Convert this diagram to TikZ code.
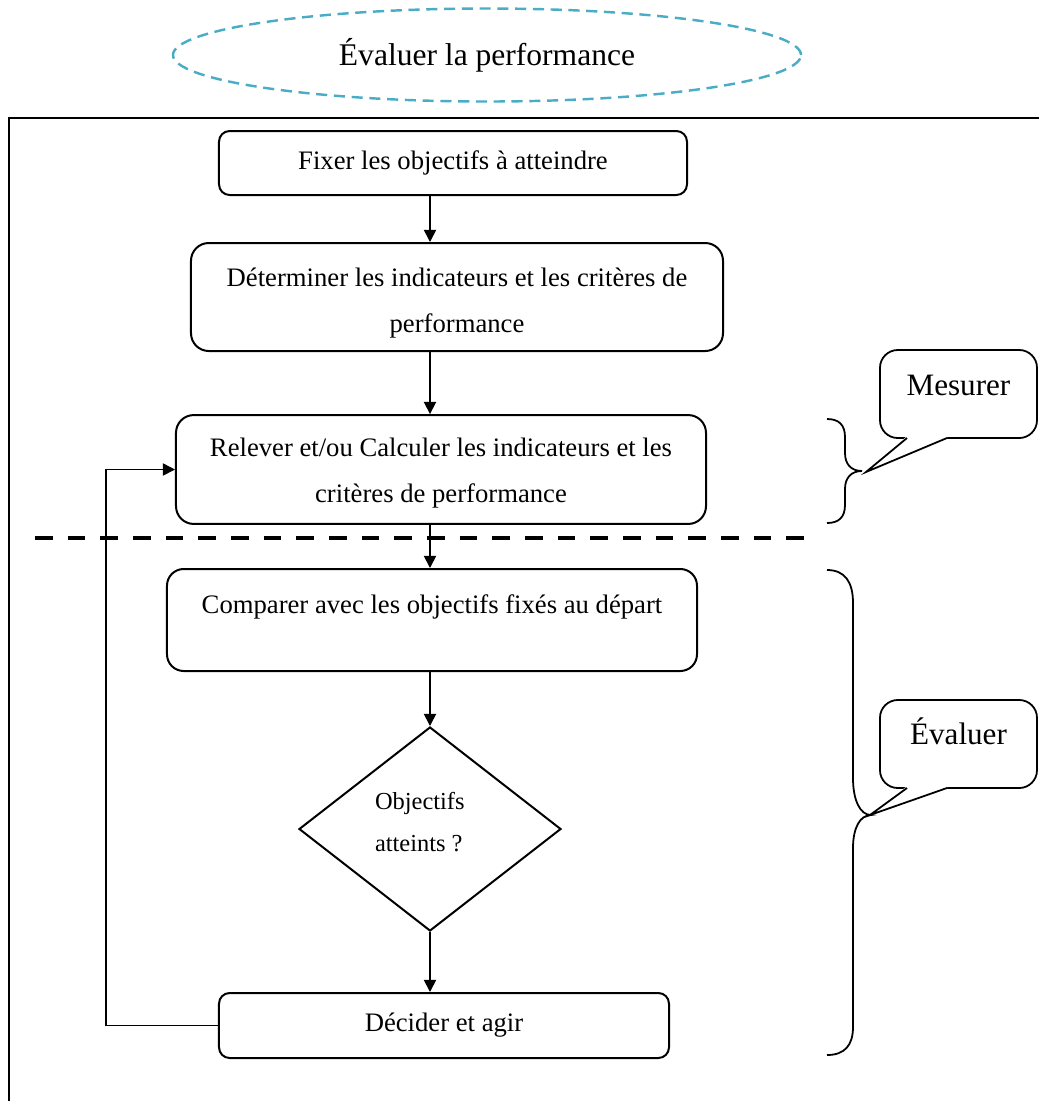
\documentclass[tikz,border=0pt]{standalone}
\usepackage{fontspec}
\setmainfont{Liberation Serif}
\usetikzlibrary{shapes.geometric,arrows.meta}
\definecolor{accblue}{RGB}{75,172,198}
\begin{document}
\begin{tikzpicture}[x=0.45pt,y=-0.45pt,
  box/.style={draw, line width=0.9pt, align=center, inner sep=0pt, font=\fontsize{12}{20.7}\selectfont},
  arr/.style={line width=0.75pt, -{Triangle[length=5.5pt,width=5.5pt]}},
  callbox/.style={draw, line width=0.8pt, rounded corners=8pt, fill=white, minimum width=70.65pt, inner sep=0pt, font=\fontsize{14}{16}\selectfont},
  bracestyle/.style={line width=0.8pt},
  sepline/.style={line width=1.8pt, dash pattern=on 8pt off 6.7pt}]
\useasboundingbox (0,0) rectangle (1039,1101);

% outer frame
\coordinate (fb) at (9,1101);
\coordinate (ftl) at (9,118);
\coordinate (ftr) at (1039,118);
\draw[line width=0.8pt] (fb) -- (ftl) -- (ftr);

% title
\node[ellipse, draw=accblue, line width=1.1pt, dash pattern=on 5pt off 3pt,
      minimum width=282.6pt, minimum height=41.85pt, inner sep=0pt,
      font=\fontsize{14.2}{16}\selectfont] (title) at (487,55) {Évaluer la performance};

% boxes
\node[box, rounded corners=4.8pt, minimum width=210.6pt, minimum height=28.8pt] (b1) at (453,163) {Fixer les objectifs à atteindre};
\node[box, rounded corners=8pt, minimum width=239.4pt, minimum height=48.6pt] (b2) at (457,297) {\rule{0pt}{13.7pt}Déterminer les indicateurs et les critères de\\performance};
\node[box, rounded corners=8pt, minimum width=238.5pt, minimum height=49pt] (b3) at (441,469.5) {\rule{0pt}{11.8pt}Relever et/ou Calculer les indicateurs et les\\critères de performance};
\node[box, rounded corners=7.5pt, minimum width=238.5pt, text height=19.8pt, text depth=26.1pt] (b4) at (432,620) {Comparer avec les objectifs fixés au départ};
\node[draw, diamond, line width=0.9pt, minimum width=117.9pt, minimum height=91.8pt, inner sep=0pt,
      align=left, font=\fontsize{11}{18.9}\selectfont] (dia) at (430,829) {\makebox[49.5pt][l]{Objectifs}\\atteints ?\rule[-6.4pt]{0pt}{6.4pt}};
\node[box, rounded corners=4.8pt, minimum width=202.5pt, minimum height=29.25pt] (b5) at (444,1025.5) {Décider et agir};

% separator
\coordinate (sepL) at (35,538);
\coordinate (sepR) at (805,538);

% connectors
\draw[arr] (b1.south -| dia.north) -- (b2.north -| dia.north);
\draw[arr] (b2.south -| dia.north) -- (b3.north -| dia.north);
\draw[arr] (b3.south -| dia.north) -- (b4.north -| dia.north);
\draw[arr] (b4.south -| dia.north) -- (dia.north);
\draw[arr] (dia.south) -- (b5.north -| dia.south);
\draw[arr] (b5.west) -- ++(-112,0) |- (b3.west);

\draw[sepline] (sepL) -- (sepR);

% braces
\coordinate (m1) at (862,471);
\coordinate (m2) at (871,815);
\draw[bracestyle] (827,419) .. controls (839,419) and (845,425) .. (845,437) -- (845,453)
  .. controls (845,464) and (851,471) .. (m1)
  .. controls (851,471) and (845,478) .. (845,489) -- (845,505)
  .. controls (845,517) and (839,523) .. (827,523);
\draw[bracestyle] (827,570) .. controls (845,570) and (853,582) .. (853,603) -- (853,778)
  .. controls (853,800) and (860,815) .. (m2)
  .. controls (860,815) and (853,828) .. (853,848) -- (853,1027)
  .. controls (853,1045) and (845,1055) .. (827,1055);

% callouts
\node[callbox, text height=20.25pt, text depth=19.35pt] (mes) at (958.5,394) {Mesurer};
\coordinate (p1) at (866,472);
\fill[white] (906,436.9) -- (948,436.9) -- (p1) -- cycle;
\draw[line width=0.8pt, line join=miter] (907,438) -- (p1) -- (947,438);

\node[callbox, text height=19.8pt, text depth=19.8pt] (eva) at (958.5,744) {Évaluer};
\coordinate (p2) at (870,815);
\fill[white] (906,786.9) -- (948,786.9) -- (p2) -- cycle;
\draw[line width=0.8pt, line join=miter] (907,788) -- (p2) -- (947,788);
\end{tikzpicture}
\end{document}
